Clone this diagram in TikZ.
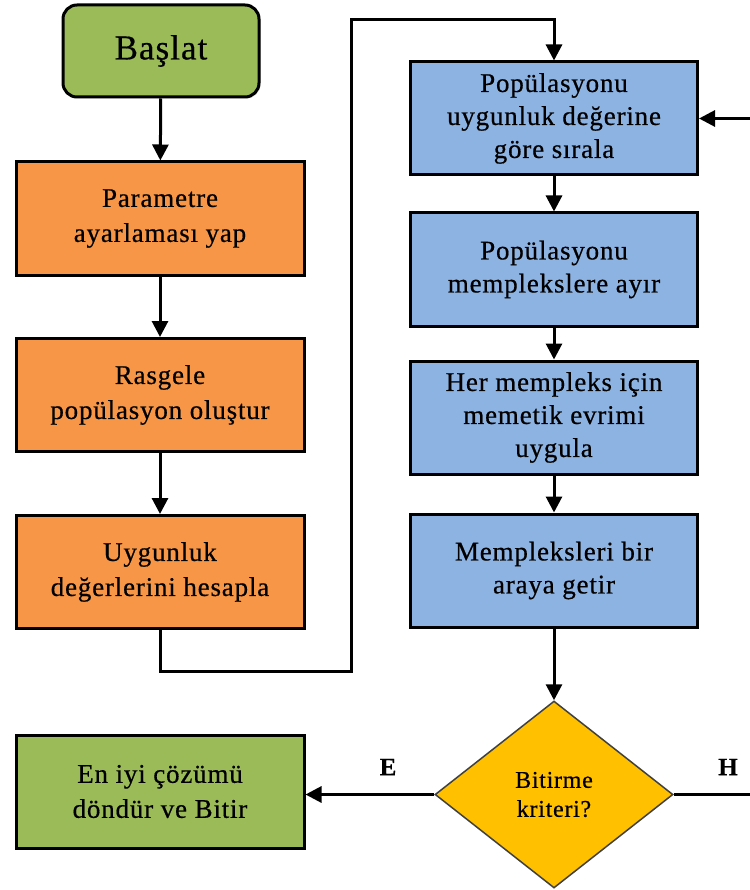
\documentclass[tikz,border=0pt]{standalone}
\usepackage{fontspec}
\setmainfont{Liberation Serif}[FakeBold=0.5, LetterSpace=3]
\usetikzlibrary{arrows.meta,shapes.geometric,shadows}

\definecolor{startgreen}{HTML}{9BBB59}
\definecolor{preporange}{HTML}{F79646}
\definecolor{loopblue}{HTML}{8DB3E2}
\definecolor{decgold}{HTML}{FFC000}
\definecolor{decedge}{HTML}{404040}

\tikzset{
  box/.style={draw=black, line width=3pt, align=center, inner sep=0pt,
    minimum width=288pt, minimum height=113pt,
    font=\fontsize{27}{35}\selectfont,
    drop shadow={opacity=0.25, shadow xshift=1.5pt, shadow yshift=-1.5pt}},
  orangebox/.style={box, fill=preporange},
  bluebox/.style={box, fill=loopblue, minimum width=287pt, font=\fontsize{27}{33}\selectfont},
  greenbox/.style={box, fill=startgreen},
  startbox/.style={box, fill=startgreen, rounded corners=14pt,
    minimum width=196pt, minimum height=92pt, font=\fontsize{35}{40}\selectfont},
  decision/.style={diamond, draw=decedge, line width=1.5pt, fill=decgold,
    align=center, inner sep=0pt, minimum width=238pt, minimum height=187pt,
    font=\fontsize{24}{29}\selectfont},
  flow/.style={draw=black, line width=3pt, -{Triangle[length=16pt,width=16pt]}},
  edgelabel/.style={font=\fontsize{25}{25}\selectfont\bfseries, inner sep=0pt}
}

\begin{document}
\begin{tikzpicture}[x=1pt, y=-1pt]
  \useasboundingbox (0,0) rectangle (749,890);

  % left column: initialisation
  \node[startbox]  (start) at (161,51)    {Başlat};
  \node[orangebox] (p1)    at (160,218.5) {Parametre\\ayarlaması yap};
  \node[orangebox] (p2)    at (160,395)   {Rasgele\\popülasyon oluştur};
  \node[orangebox] (p3)    at (160,572)   {Uygunluk\\değerlerini hesapla};

  % right column: main loop
  \node[bluebox] (b1) at (554,118.5) {Popülasyonu\\uygunluk değerine\\göre sırala};
  \node[bluebox] (b2) at (554,269.5) {Popülasyonu\\memplekslere ayır};
  \node[bluebox] (b3) at (554,417.5) {Her mempleks için\\memetik evrimi\\uygula};
  \node[bluebox] (b4) at (554,570.5) {Mempleksleri bir\\araya getir};

  \node[decision] (dec) at (554,794.5) {Bitirme\\kriteri?};
  \node[greenbox] (fin) at (160,791.5) {En iyi çözümü\\döndür ve Bitir};

  % route from the initialisation column into the loop
  \coordinate (r1) at (351,671);
  \coordinate (r2) at (351,20);
  \coordinate (back) at (752,794.5);

  \draw[flow] (start) -- (p1);
  \draw[flow] (p1) -- (p2);
  \draw[flow] (p2) -- (p3);
  \draw[flow] (p3.south) |- (r1) -- (r2) -| (b1.north);

  \draw[flow] (b1) -- (b2);
  \draw[flow] (b2) -- (b3);
  \draw[flow] (b3) -- (b4);
  \draw[flow] (b4.south) -- (dec.north);

  % exit and repeat branches
  \draw[flow] (dec.west) -- (dec.west -| fin.east);
  \draw[flow] (dec.east) -- (back) |- (b1.east);

  \node[edgelabel] (yes) at (388,767) {E};
  \node[edgelabel] (no)  at (728,767) {H};
\end{tikzpicture}
\end{document}
